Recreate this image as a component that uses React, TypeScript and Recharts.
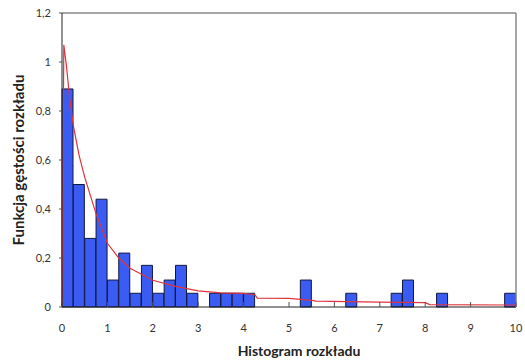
import {
	ComposedChart,
	Bar,
	Line,
	XAxis,
	YAxis,
	ReferenceLine,
} from "recharts";

// histogram bins, width 0.25, labelled by their left edge
const binStarts = [
	0, 0.25, 0.5, 0.75, 1, 1.25, 1.5, 1.75, 2, 2.25, 2.5, 2.75, 3, 3.25, 3.5, 3.75,
	4, 4.25, 4.5, 4.75, 5, 5.25, 5.5, 5.75, 6, 6.25, 6.5, 6.75, 7, 7.25, 7.5, 7.75,
	8, 8.25, 8.5, 8.75, 9, 9.25, 9.5, 9.75,
];
const binDensity = [
	0.89, 0.5, 0.28, 0.44, 0.11, 0.22, 0.056, 0.17, 0.056, 0.11, 0.17, 0.056, 0, 0.056, 0.056, 0.056,
	0.056, 0, 0, 0, 0, 0.11, 0, 0, 0, 0.056, 0, 0, 0, 0.056, 0.11, 0,
	0, 0.056, 0, 0, 0, 0, 0, 0.056,
];

// fitted density curve
const curveX = [0, 0.04, 0.1, 0.17, 0.25, 0.375, 0.5, 0.75, 1, 1.25, 1.5, 2, 2.5, 3, 3.5, 4, 4.25, 4.3, 5, 5.5, 5.6, 7, 8, 8.1, 10];
const curveY = [0, 1.07, 0.98, 0.85, 0.74, 0.62, 0.53, 0.38, 0.26, 0.2, 0.158, 0.109, 0.084, 0.066, 0.058, 0.056, 0.05, 0.036, 0.035, 0.027, 0.024, 0.02, 0.018, 0.01, 0.008];

const xTicks = [0, 1, 2, 3, 4, 5, 6, 7, 8, 9, 10];
const yTicks = [0, 0.2, 0.4, 0.6, 0.8, 1, 1.2];

const bins = binStarts.map((b, i) => ({ bin: b, value: binDensity[i] }));
const curve = curveX.map((x, i) => ({ x, y: curveY[i] }));

const font = "Lato, 'Open Sans', sans-serif";

const App = () => {
	return (
		<div style={{ position: "absolute", left: 0, top: 0, width: 525, height: 361, background: "#fff" }}>
			<ComposedChart
				width={525}
				height={361}
				data={bins}
				margin={{ top: 13, right: 9, left: 0, bottom: 0 }}
				barCategoryGap={0}
				barGap={0}
				style={{ fontFamily: font }}
			>
				<XAxis xAxisId="bin" dataKey="bin" type="category" hide height={0} />
				<XAxis
					xAxisId="num"
					dataKey="x"
					type="number"
					domain={[0, 10]}
					ticks={xTicks}
					allowDataOverflow
					height={54}
					axisLine={{ stroke: "#222" }}
					tickLine={{ stroke: "#555" }}
					tickSize={-5}
					tickMargin={22}
					tick={{ fontSize: 11, fill: "#333" }}
					label={{
						value: "Histogram rozkładu",
						position: "insideBottom",
						offset: 5,
						dx: 10,
						style: { fontSize: 14, fontWeight: 700, fill: "#222", fontFamily: font },
					}}
				/>
				<YAxis
					domain={[0, 1.2]}
					ticks={yTicks}
					width={62}
					axisLine={{ stroke: "#222" }}
					tickLine={{ stroke: "#555" }}
					tickSize={3}
					tickMargin={8}
					tick={{ fontSize: 11, fill: "#333" }}
					tickFormatter={(v: number) => String(Math.round(v * 10) / 10).replace(".", ",")}
					label={{
						value: "Funkcja gęstości rozkładu",
						angle: -90,
						position: "insideLeft",
						offset: 19,
						style: { textAnchor: "middle", fontSize: 15, fontWeight: 700, fill: "#222", fontFamily: font },
					}}
				/>
				<ReferenceLine xAxisId="num" y={1.2} stroke="#888" strokeWidth={1.5} />
				<ReferenceLine xAxisId="num" x={10} stroke="#888" strokeWidth={1.5} />
				<Bar
					xAxisId="bin"
					dataKey="value"
					fill="#3a5cf2"
					stroke="#101840"
					strokeWidth={1}
					isAnimationActive={false}
				/>
				<Line
					xAxisId="num"
					data={curve}
					dataKey="y"
					type="linear"
					stroke="#e0343c"
					strokeWidth={1.2}
					dot={false}
					activeDot={false}
					isAnimationActive={false}
				/>
			</ComposedChart>
		</div>
	);
};

export default App;
